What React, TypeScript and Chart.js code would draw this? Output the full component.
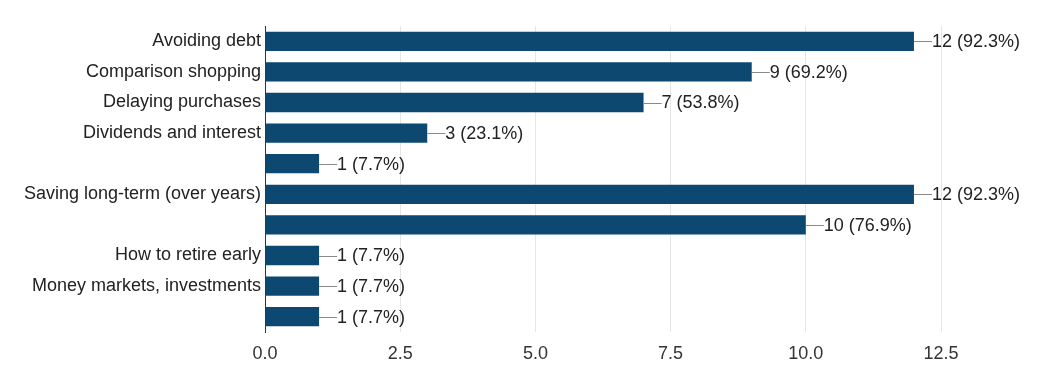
import React, { useEffect, useRef } from "react";
import { Chart, registerables } from "chart.js";

Chart.register(...registerables);

const categories = [
  "Avoiding debt",
  "Comparison shopping",
  "Delaying purchases",
  "Dividends and interest",
  "",
  "Saving long-term (over years)",
  "",
  "How to retire early",
  "Money markets, investments",
  "",
];
const counts = [12, 9, 7, 3, 1, 12, 10, 1, 1, 1];
const percents = ["92.3", "69.2", "53.8", "23.1", "7.7", "92.3", "76.9", "7.7", "7.7", "7.7"];
const xTicks = [0, 2.5, 5, 7.5, 10, 12.5];

const FONT = "'Liberation Sans', Arial, Helvetica, sans-serif";

const valueLabels = {
  id: "valueLabels",
  afterDatasetsDraw(chart: any) {
    const ctx = chart.ctx;
    const meta = chart.getDatasetMeta(0);
    ctx.save();
    ctx.font = `18px ${FONT}`;
    ctx.textBaseline = "middle";
    ctx.textAlign = "left";
    meta.data.forEach((bar: any, i: number) => {
      const x = bar.x;
      const y = bar.y;
      ctx.strokeStyle = "#8a8a8a";
      ctx.lineWidth = 1;
      ctx.beginPath();
      ctx.moveTo(x, Math.round(y) + 0.5);
      ctx.lineTo(x + 18, Math.round(y) + 0.5);
      ctx.stroke();
      ctx.fillStyle = "#222222";
      ctx.fillText(`${counts[i]} (${percents[i]}%)`, x + 18, y + 1);
    });
    ctx.restore();
  },
};

export default function App() {
  const ref = useRef<HTMLCanvasElement | null>(null);
  useEffect(() => {
    if (!ref.current) return;
    const chart = new Chart(ref.current, {
      type: "bar",
      data: {
        labels: categories,
        datasets: [
          {
            data: counts,
            backgroundColor: "#0c4870",
            borderWidth: 0,
            categoryPercentage: 1,
            barPercentage: 0.63,
          },
        ],
      },
      plugins: [valueLabels],
      options: {
        indexAxis: "y",
        animation: false,
        responsive: false,
        maintainAspectRatio: false,
        layout: { padding: { top: 18, right: 95, bottom: 0, left: 0 } },
        plugins: { legend: { display: false }, tooltip: { enabled: false } },
        scales: {
          x: {
            min: 0,
            max: 12.5,
            afterBuildTicks(axis: any) {
              axis.ticks = xTicks.map((v) => ({ value: v }));
            },
            afterFit(axis: any) {
              axis.height = 52;
            },
            grid: { color: "#e6e6e6", drawTicks: false, tickLength: 0 },
            border: { display: false },
            ticks: {
              padding: 11,
              color: "#333333",
              font: { family: FONT, size: 18 },
              callback: (v: any) => Number(v).toFixed(1),
            },
          },
          y: {
            afterFit(axis: any) {
              axis.width = 257;
            },
            grid: { display: false, drawTicks: false },
            border: { display: true, color: "#333333", width: 1 },
            ticks: {
              padding: 4,
              color: "#222222",
              font: { family: FONT, size: 18 },
              autoSkip: false,
            },
          },
        },
      },
    });
    return () => chart.destroy();
  }, []);
  return (
    <div style={{ width: 1028, height: 376 }}>
      <canvas ref={ref} width={1028} height={376} style={{ width: 1028, height: 376 }} />
    </div>
  );
}
